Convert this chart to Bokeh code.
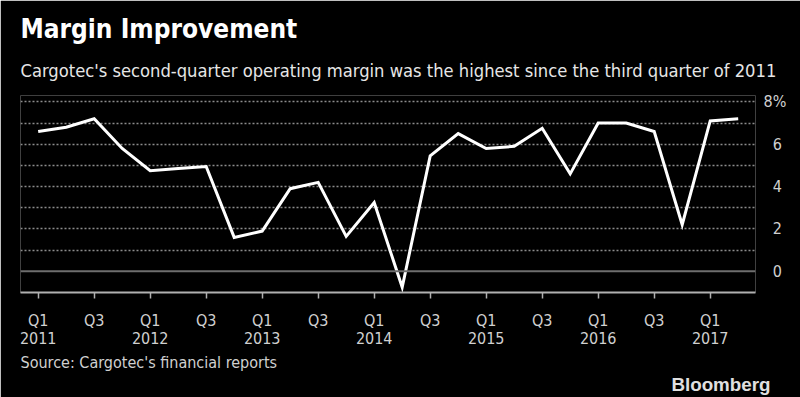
from bokeh.plotting import figure
from bokeh.models import FixedTicker, Span, Title, Range1d
from bokeh.embed import file_html
from bokeh.resources import INLINE

# ---- data ----
quarters = ["Q1 2011", "Q2 2011", "Q3 2011", "Q4 2011",
            "Q1 2012", "Q2 2012", "Q3 2012", "Q4 2012",
            "Q1 2013", "Q2 2013", "Q3 2013", "Q4 2013",
            "Q1 2014", "Q2 2014", "Q3 2014", "Q4 2014",
            "Q1 2015", "Q2 2015", "Q3 2015", "Q4 2015",
            "Q1 2016", "Q2 2016", "Q3 2016", "Q4 2016",
            "Q1 2017", "Q2 2017"]
margin = [6.6, 6.8, 7.2, 5.8,
          4.75, 4.85, 4.95, 1.6,
          1.9, 3.9, 4.2, 1.65,
          3.25, -0.75, 5.45, 6.5,
          5.8, 5.9, 6.75, 4.6,
          7.0, 7.0, 6.6, 2.2,
          7.1, 7.2]
y_ticks = [0, 2, 4, 6, 8]
grid_ticks = [1, 2, 3, 4, 5, 6, 7, 8]

title_text = "Margin Improvement"
subtitle_text = "Cargotec's second-quarter operating margin was the highest since the third quarter of 2011"
source_text = "Source: Cargotec's financial reports"
brand_text = "Bloomberg"

x_idx = list(range(len(quarters)))

COND = "Liberation Sans Narrow, DejaVu Sans Condensed, sans-serif"

p = figure(width=800, height=397, output_backend="svg", toolbar_location=None,
           y_axis_location="right",
           x_range=Range1d(-0.632, 25.618), y_range=Range1d(-1.0, 8.3),
           min_border_left=20, min_border_right=45, min_border_top=95,
           min_border_bottom=105,
           background_fill_color="black", border_fill_color="black",
           outline_line_color=None)

# grid
p.xgrid.visible = False
p.ygrid.ticker = FixedTicker(ticks=grid_ticks)
p.ygrid.grid_line_color = "#8c8c8c"
p.ygrid.grid_line_dash = "2 2"
p.ygrid.grid_line_width = 1.5
p.add_layout(Span(location=0, dimension="width", line_color="#6e6e6e", line_width=2))

# x axis
xt = [i for i in x_idx if i % 2 == 0]
overrides = {}
for i in xt:
    q, yr = quarters[i].split()
    overrides[i] = q + "\n" + yr if q == "Q1" else q
p.xaxis.ticker = FixedTicker(ticks=xt)
p.xaxis.major_label_overrides = overrides
p.xaxis.axis_line_color = "#b0b0b0"
p.xaxis.axis_line_width = 2
p.xaxis.major_tick_line_color = "#b0b0b0"
p.xaxis.major_tick_line_width = 1.5
p.xaxis.major_tick_in = 0
p.xaxis.major_tick_out = 6
p.xaxis.minor_tick_line_color = None
p.xaxis.major_label_text_color = "#d0d0d0"
p.xaxis.major_label_text_font = COND
p.xaxis.major_label_text_font_size = "16px"
p.xaxis.major_label_text_line_height = 0.95
p.xaxis.major_label_standoff = 12

# y axis
p.yaxis.ticker = FixedTicker(ticks=y_ticks)
p.yaxis.major_label_overrides = {t: (str(t) + "%" if t == 8 else "\u2007" + str(t)) for t in y_ticks}
p.yaxis.axis_line_color = None
p.yaxis.major_tick_line_color = None
p.yaxis.minor_tick_line_color = None
p.yaxis.major_label_text_color = "#d0d0d0"
p.yaxis.major_label_text_font = COND
p.yaxis.major_label_text_font_size = "16px"
p.yaxis.major_label_standoff = 2

# line
p.line(x_idx, margin, line_color="white", line_width=3, line_join="miter")

# titles
p.add_layout(Title(text=subtitle_text, text_color="#e6e6e6", text_font=COND,
                   text_font_size="18.2px", text_font_style="normal", align="left",
                   standoff=29), "above")
p.add_layout(Title(text=title_text, text_color="white", text_font="DejaVu Sans Condensed",
                   text_font_size="26px", text_font_style="bold", align="left",
                   standoff=0), "above")

p.add_layout(Title(text=source_text, text_color="#d0d0d0", text_font=COND,
                   text_font_size="16px", text_font_style="normal", align="left",
                   standoff=0), "below")
p.add_layout(Title(text=brand_text, text_color="#e0e0e0", text_font="Liberation Sans",
                   text_font_size="18.8px", text_font_style="bold", align="right",
                   offset=-15, standoff=0), "below")

open("out.html", "w").write(file_html(p, INLINE))
